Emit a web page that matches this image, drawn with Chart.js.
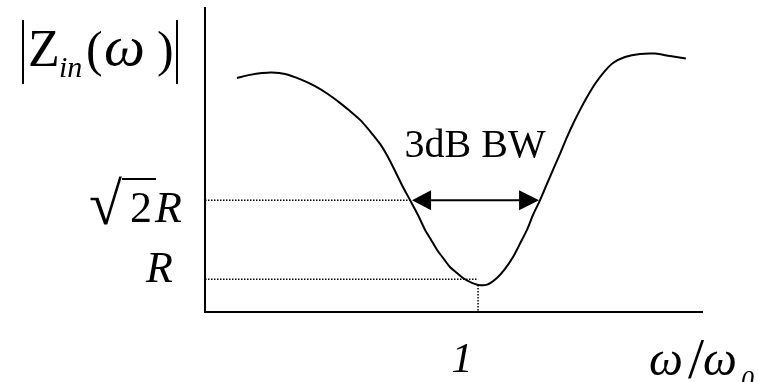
<!DOCTYPE html>
<html>
<head>
<meta charset="utf-8">
<title>|Zin(ω)| autour de la résonance</title>
<script src="https://cdn.jsdelivr.net/npm/chart.js"></script>
<style>
html, body { margin: 0; padding: 0; background: #fff; }
.chart-container { position: relative; width: 758px; height: 382px; }
</style>
</head>
<body>
<div class="chart-container">
<canvas id="zinChart"></canvas>
</div>
<script>
// normalised frequency w/w0 and |Zin| (arbitrary units)
const freq = [0.117, 0.165, 0.209, 0.245, 0.293, 0.348, 0.403, 0.450, 0.494, 0.531,
              0.568, 0.604, 0.641, 0.670, 0.696, 0.721, 0.751, 0.780, 0.806, 0.828,
              0.850, 0.875, 0.897, 0.923, 0.945, 0.970, 1.000, 1.033, 1.069, 1.098,
              1.128, 1.153, 1.179, 1.201, 1.227, 1.252, 1.274, 1.300, 1.326, 1.351,
              1.373, 1.399, 1.428, 1.461, 1.494, 1.538, 1.593, 1.648, 1.703, 1.761];
const zin = [77.0, 78.0, 78.6, 78.8, 78.3, 76.6, 74.3, 71.7, 68.8, 66.1,
             63.2, 59.5, 55.3, 51.0, 46.4, 41.8, 36.8, 31.9, 27.0, 23.7,
             20.4, 17.4, 14.8, 12.8, 11.2, 9.9, 8.9, 9.0, 11.2, 14.1,
             18.1, 22.4, 27.0, 31.9, 36.8, 42.1, 46.7, 52.0, 57.6, 62.5,
             66.4, 70.7, 75.0, 78.9, 81.9, 83.9, 84.9, 85.0, 84.2, 83.4];

// reference levels on the |Zin| axis
const levelR = 10.75;
const levelSqrt2R = 36.8;
// band edges (curve crosses sqrt(2) R) and resonance
const bwLow = 0.751;
const bwHigh = 1.227;
const resFreq = 1.0;
const zMin = 8.9;
const xTickLabels = ['1'];

const SERIF = '"Liberation Serif", "Times New Roman", serif';

const curve = freq.map((f, i) => ({ x: f, y: zin[i] }));
const dotted = {
  borderColor: '#000',
  borderWidth: 1.5,
  borderDash: [1.5, 1.5],
  pointRadius: 0,
  tension: 0
};

// labels, arrow and the |Zin| / w/w0 axis captions
const annotations = {
  id: 'annotations',
  afterDatasetsDraw(chart) {
    const { ctx, chartArea, scales: { x, y } } = chart;
    ctx.save();
    ctx.fillStyle = '#000';
    ctx.strokeStyle = '#000';
    ctx.textBaseline = 'alphabetic';

    // double arrow across the 3dB band
    const yA = y.getPixelForValue(levelSqrt2R);
    const x1 = x.getPixelForValue(bwLow);
    const x2 = x.getPixelForValue(bwHigh);
    const head = 21, half = 10;
    ctx.lineWidth = 2;
    ctx.beginPath();
    ctx.moveTo(x1 + head, yA);
    ctx.lineTo(x2 - head, yA);
    ctx.stroke();
    ctx.beginPath();
    ctx.moveTo(x1 + 2, yA);
    ctx.lineTo(x1 + head, yA - half);
    ctx.lineTo(x1 + head, yA + half);
    ctx.closePath();
    ctx.fill();
    ctx.beginPath();
    ctx.moveTo(x2 - 1, yA);
    ctx.lineTo(x2 - head, yA - half);
    ctx.lineTo(x2 - head, yA + half);
    ctx.closePath();
    ctx.fill();

    ctx.font = '40px ' + SERIF;
    ctx.textAlign = 'center';
    ctx.fillText('3dB BW', (x1 + x2) / 2, yA - 43);

    // level labels on the vertical axis
    const left = chartArea.left;
    ctx.textAlign = 'right';
    ctx.font = 'italic 44px ' + SERIF;
    ctx.fillText('R', left - 23, yA + 22);
    ctx.fillText('R', left - 32, y.getPixelForValue(levelR) + 3);
    ctx.font = '44px ' + SERIF;
    ctx.fillText('2', left - 53, yA + 22);
    ctx.textAlign = 'left';
    ctx.font = '60px ' + SERIF;
    ctx.fillText('\u221A', 89, yA + 24);
    ctx.lineWidth = 2;
    ctx.beginPath();
    ctx.moveTo(122, 179);
    ctx.lineTo(156, 179);
    ctx.stroke();

    // tick label under the resonance
    ctx.textAlign = 'center';
    ctx.font = 'italic 43px ' + SERIF;
    xTickLabels.forEach(t => {
      ctx.fillText(t, x.getPixelForValue(Number(t)) - 16, chartArea.bottom + 60);
    });

    // x caption: w / w0
    ctx.textAlign = 'left';
    ctx.font = 'italic 48px ' + SERIF;
    ctx.fillText('\u03C9', 649, 375);
    ctx.font = '58px ' + SERIF;
    ctx.fillText('/', 688, 378);
    ctx.font = 'italic 48px ' + SERIF;
    ctx.fillText('\u03C9', 703, 375);
    ctx.font = 'italic 26px ' + SERIF;
    ctx.fillText('0', 741, 388);

    // y caption: |Zin(w)|
    ctx.lineWidth = 2;
    ctx.beginPath();
    ctx.moveTo(23, 20); ctx.lineTo(23, 84);
    ctx.moveTo(177, 20); ctx.lineTo(177, 84);
    ctx.stroke();
    ctx.font = '52px ' + SERIF;
    ctx.fillText('Z', 28, 66);
    ctx.font = 'italic 30px ' + SERIF;
    ctx.fillText('in', 59, 77);
    ctx.font = '50px ' + SERIF;
    ctx.fillText('(', 86, 66);
    ctx.fillText(')', 157, 66);
    ctx.font = 'italic 58px ' + SERIF;
    ctx.fillText('\u03C9', 104, 65);

    ctx.restore();
  }
};

new Chart(document.getElementById('zinChart'), {
  type: 'line',
  data: {
    datasets: [
      {
        data: curve,
        borderColor: '#000',
        borderWidth: 2,
        pointRadius: 0,
        tension: 0.3
      },
      Object.assign({ data: [{ x: 0, y: levelSqrt2R }, { x: bwLow, y: levelSqrt2R }] }, dotted),
      Object.assign({ data: [{ x: 0, y: levelR }, { x: resFreq, y: levelR }] }, dotted),
      Object.assign({ data: [{ x: resFreq, y: zMin }, { x: resFreq, y: 0 }] }, dotted)
    ]
  },
  options: {
    responsive: true,
    maintainAspectRatio: false,
    animation: false,
    layout: { padding: { left: 205, top: 8, right: 56, bottom: 70 } },
    plugins: { legend: { display: false }, tooltip: { enabled: false } },
    scales: {
      x: {
        type: 'linear',
        min: 0,
        max: 1.82,
        grid: { display: false, drawTicks: false },
        border: { display: true, color: '#000', width: 2 },
        ticks: { display: false }
      },
      y: {
        type: 'linear',
        min: 0,
        max: 100,
        grid: { display: false, drawTicks: false },
        border: { display: true, color: '#000', width: 2 },
        ticks: { display: false }
      }
    }
  },
  plugins: [annotations]
});
</script>
</body>
</html>
